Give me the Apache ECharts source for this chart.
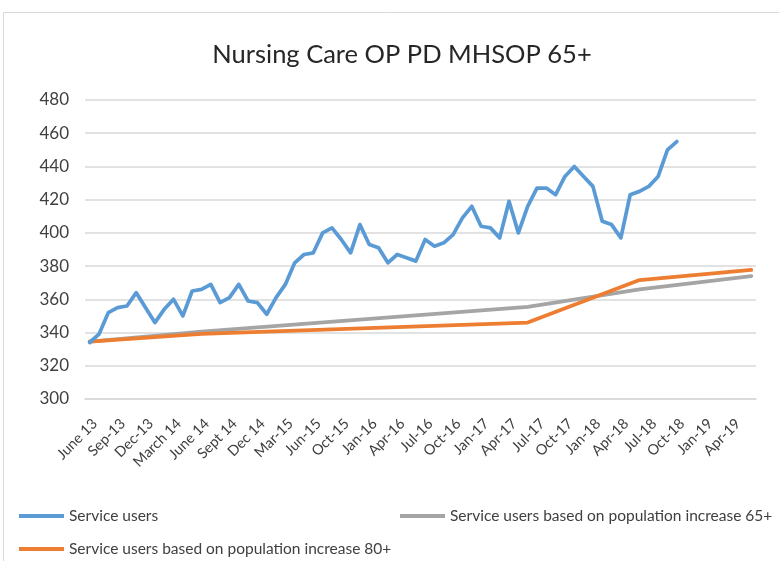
<!DOCTYPE html>
<html>
<head>
<meta charset="utf-8">
<script src="https://cdn.jsdelivr.net/npm/echarts@6/dist/echarts.min.js"></script>
<style>
  html, body { margin: 0; padding: 0; background: #ffffff; }
  #chart { width: 779px; height: 561px; }
</style>
</head>
<body>
<div id="chart"></div>
<script>
// Monthly categories (one per reporting month)
const months = [
  'June 13', 'Jul-13', 'Aug-13', 'Sep-13', 'Oct-13', 'Nov-13', 'Dec-13', 'Jan-14', 'Feb-14',
  'March 14', 'April 14', 'May 14', 'June 14', 'July 14', 'Aug 14', 'Sept 14', 'Oct 14', 'Nov 14',
  'Dec 14', 'Jan-15', 'Feb-15', 'Mar-15', 'Apr-15', 'May-15', 'Jun-15', 'Jul-15', 'Aug-15',
  'Oct-15', 'Nov-15', 'Dec-15', 'Jan-16', 'Feb-16', 'Mar-16', 'Apr-16', 'May-16', 'Jun-16',
  'Jul-16', 'Aug-16', 'Sep-16', 'Oct-16', 'Nov-16', 'Dec-16', 'Jan-17', 'Feb-17', 'Mar-17',
  'Apr-17', 'May-17', 'Jun-17', 'Jul-17', 'Aug-17', 'Sep-17', 'Oct-17', 'Nov-17', 'Dec-17',
  'Jan-18', 'Feb-18', 'Mar-18', 'Apr-18', 'May-18', 'Jun-18', 'Jul-18', 'Aug-18', 'Sep-18',
  'Oct-18', 'Nov-18', 'Dec-18', 'Jan-19', 'Feb-19', 'Mar-19', 'Apr-19', 'May-19', 'Jun-19'
];

// Actual service users, June 2013 onwards
const serviceUsers = [
  334, 339, 352, 355, 356, 364, 355, 346, 354, 360,
  350, 365, 366, 369, 358, 361, 369, 359, 358, 351,
  361, 369, 382, 387, 388, 400, 403, 396, 388, 405,
  393, 391, 382, 387, 385, 383, 396, 392, 394, 399,
  409, 416, 404, 403, 397, 419, 400, 416, 427, 427,
  423, 434, 440, 434, 428, 407, 405, 397, 423, 425,
  428, 434, 450, 455
];

// Projections: yearly anchor months and projected values
const projectionMonths = ['June 13', 'June 14', 'Jun-17', 'Jun-18', 'Jun-19'];
const projected65 = [334.5, 340.5, 355.5, 366, 374];
const projected80 = [334.5, 339.2, 346, 371.6, 377.7];

// Value axis ticks
const yMin = 300, yMax = 480, yStep = 20;

const seriesNames = [
  'Service users',
  'Service users based on population increase 65+',
  'Service users based on population increase 80+'
];
const colors = ['#5B9BD5', '#A5A5A5', '#ED7D31'];

const font = 'Lato, "Open Sans", sans-serif';
const textColor = '#404040';

const chart = echarts.init(document.getElementById('chart'), null, { renderer: 'canvas' });

function legendAt(name, left, top) {
  return {
    data: [name],
    left: left,
    top: top,
    icon: 'rect',
    itemWidth: 45,
    itemHeight: 4,
    itemGap: 0,
    selectedMode: false,
    textStyle: { fontFamily: font, fontSize: 15.5, color: textColor }
  };
}

chart.setOption({
  animation: false,
  backgroundColor: '#ffffff',
  color: colors,
  title: {
    text: 'Nursing Care OP PD MHSOP 65+',
    left: 397,
    textAlign: 'center',
    top: 37,
    textStyle: { fontFamily: font, fontSize: 25.5, fontWeight: 'normal', color: '#262626' }
  },
  graphic: [{
    type: 'rect',
    shape: { x: 3.5, y: 12.5, width: 800, height: 600 },
    style: { fill: 'none', stroke: '#d9d9d9', lineWidth: 1 },
    silent: true,
    z: -10
  }],
  legend: [
    legendAt(seriesNames[0], 14, 503),
    legendAt(seriesNames[1], 395, 503),
    legendAt(seriesNames[2], 14, 536)
  ],
  grid: { left: 85, right: 23, top: 100, bottom: 162 },
  xAxis: {
    type: 'category',
    data: months,
    boundaryGap: true,
    axisLine: { show: true, lineStyle: { color: '#d9d9d9', width: 1.5 } },
    axisTick: { show: false },
    axisLabel: {
      interval: 2,
      rotate: 45,
      align: 'right',
      verticalAlign: 'top',
      margin: 17,
      fontFamily: font,
      fontSize: 14.5,
      color: textColor
    }
  },
  yAxis: {
    type: 'value',
    min: yMin,
    max: yMax,
    interval: yStep,
    axisLine: { show: false },
    axisTick: { show: false },
    axisLabel: { fontFamily: font, fontSize: 17, color: textColor, margin: 16 },
    splitLine: { lineStyle: { color: '#d9d9d9', width: 1.5 } }
  },
  series: [
    {
      name: seriesNames[0],
      type: 'line',
      data: serviceUsers,
      symbol: 'none',
      lineStyle: { width: 3.75, color: colors[0], cap: 'round', join: 'round' },
      z: 3
    },
    {
      name: seriesNames[1],
      type: 'line',
      data: projectionMonths.map((m, i) => [m, projected65[i]]),
      symbol: 'none',
      lineStyle: { width: 3.75, color: colors[1], cap: 'round', join: 'round' },
      z: 2
    },
    {
      name: seriesNames[2],
      type: 'line',
      data: projectionMonths.map((m, i) => [m, projected80[i]]),
      symbol: 'none',
      lineStyle: { width: 3.75, color: colors[2], cap: 'round', join: 'round' },
      z: 2
    }
  ]
});
</script>
</body>
</html>
